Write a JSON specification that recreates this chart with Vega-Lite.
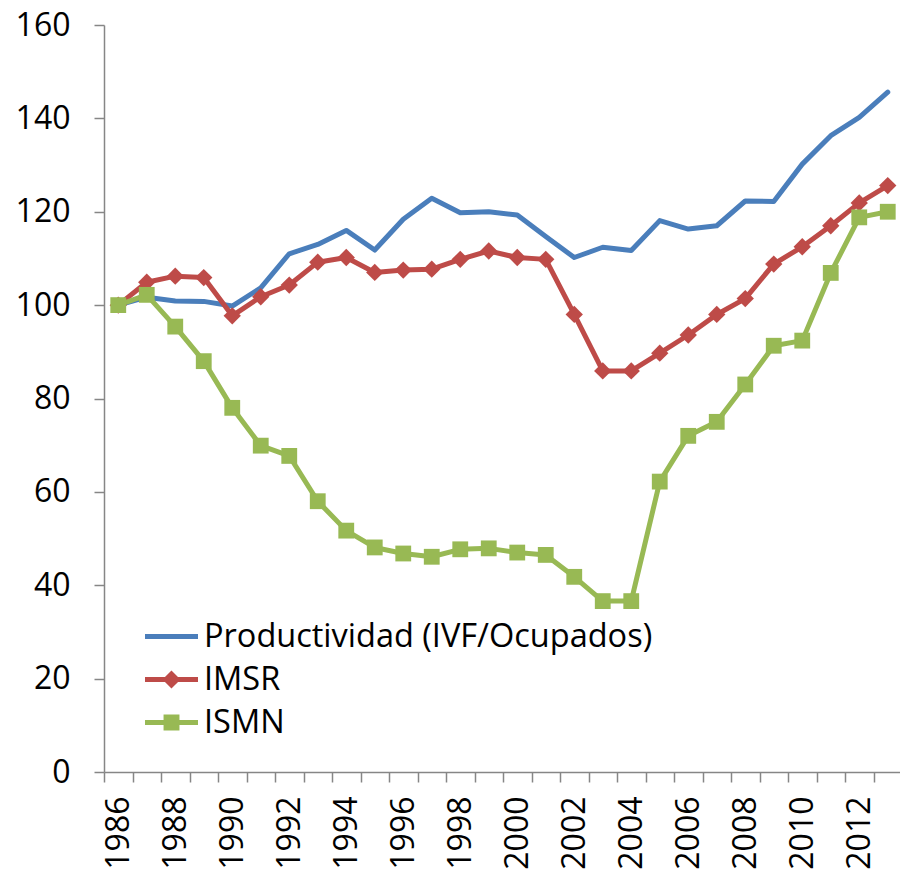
{
  "$schema": "https://vega.github.io/schema/vega-lite/v6.json",
  "autosize": {"type": "none"},
  "width": 798,
  "height": 747,
  "padding": {"left": 104, "top": 25, "right": 0, "bottom": 101},
  "background": "white",
  "title": {"text": "1986-2013", "font": "Open Sans", "fontSize": 36, "fontWeight": "bold", "color": "black", "anchor": "middle", "dx": -28, "offset": 18, "baseline": "alphabetic"},
  "config": {
    "view": {"stroke": null},
    "font": "Open Sans",
    "axis": {"grid": false, "domainColor": "#868686", "domainWidth": 1.5, "tickColor": "#868686", "tickWidth": 1.5, "tickSize": 10, "labelFont": "Open Sans", "labelFontSize": 32, "labelColor": "black", "title": null}
  },
  "data": {"values": [
    {"year": 1986, "series": "Productividad (IVF/Ocupados)", "value": 100},
    {"year": 1987, "series": "Productividad (IVF/Ocupados)", "value": 101.7},
    {"year": 1988, "series": "Productividad (IVF/Ocupados)", "value": 100.9},
    {"year": 1989, "series": "Productividad (IVF/Ocupados)", "value": 100.8},
    {"year": 1990, "series": "Productividad (IVF/Ocupados)", "value": 99.8},
    {"year": 1991, "series": "Productividad (IVF/Ocupados)", "value": 103.7},
    {"year": 1992, "series": "Productividad (IVF/Ocupados)", "value": 111.0},
    {"year": 1993, "series": "Productividad (IVF/Ocupados)", "value": 113.0},
    {"year": 1994, "series": "Productividad (IVF/Ocupados)", "value": 116.0},
    {"year": 1995, "series": "Productividad (IVF/Ocupados)", "value": 111.8},
    {"year": 1996, "series": "Productividad (IVF/Ocupados)", "value": 118.4},
    {"year": 1997, "series": "Productividad (IVF/Ocupados)", "value": 122.9},
    {"year": 1998, "series": "Productividad (IVF/Ocupados)", "value": 119.8},
    {"year": 1999, "series": "Productividad (IVF/Ocupados)", "value": 120.0},
    {"year": 2000, "series": "Productividad (IVF/Ocupados)", "value": 119.3},
    {"year": 2001, "series": "Productividad (IVF/Ocupados)", "value": 114.7},
    {"year": 2002, "series": "Productividad (IVF/Ocupados)", "value": 110.2},
    {"year": 2003, "series": "Productividad (IVF/Ocupados)", "value": 112.4},
    {"year": 2004, "series": "Productividad (IVF/Ocupados)", "value": 111.7},
    {"year": 2005, "series": "Productividad (IVF/Ocupados)", "value": 118.1},
    {"year": 2006, "series": "Productividad (IVF/Ocupados)", "value": 116.3},
    {"year": 2007, "series": "Productividad (IVF/Ocupados)", "value": 117.0},
    {"year": 2008, "series": "Productividad (IVF/Ocupados)", "value": 122.3},
    {"year": 2009, "series": "Productividad (IVF/Ocupados)", "value": 122.2},
    {"year": 2010, "series": "Productividad (IVF/Ocupados)", "value": 130.2},
    {"year": 2011, "series": "Productividad (IVF/Ocupados)", "value": 136.3},
    {"year": 2012, "series": "Productividad (IVF/Ocupados)", "value": 140.2},
    {"year": 2013, "series": "Productividad (IVF/Ocupados)", "value": 145.6},
    {"year": 1986, "series": "IMSR", "value": 100},
    {"year": 1987, "series": "IMSR", "value": 104.9},
    {"year": 1988, "series": "IMSR", "value": 106.2},
    {"year": 1989, "series": "IMSR", "value": 105.9},
    {"year": 1990, "series": "IMSR", "value": 97.7},
    {"year": 1991, "series": "IMSR", "value": 101.8},
    {"year": 1992, "series": "IMSR", "value": 104.3},
    {"year": 1993, "series": "IMSR", "value": 109.2},
    {"year": 1994, "series": "IMSR", "value": 110.2},
    {"year": 1995, "series": "IMSR", "value": 107.0},
    {"year": 1996, "series": "IMSR", "value": 107.5},
    {"year": 1997, "series": "IMSR", "value": 107.7},
    {"year": 1998, "series": "IMSR", "value": 109.8},
    {"year": 1999, "series": "IMSR", "value": 111.6},
    {"year": 2000, "series": "IMSR", "value": 110.2},
    {"year": 2001, "series": "IMSR", "value": 109.8},
    {"year": 2002, "series": "IMSR", "value": 98.0},
    {"year": 2003, "series": "IMSR", "value": 85.9},
    {"year": 2004, "series": "IMSR", "value": 85.9},
    {"year": 2005, "series": "IMSR", "value": 89.7},
    {"year": 2006, "series": "IMSR", "value": 93.6},
    {"year": 2007, "series": "IMSR", "value": 98.0},
    {"year": 2008, "series": "IMSR", "value": 101.4},
    {"year": 2009, "series": "IMSR", "value": 108.8},
    {"year": 2010, "series": "IMSR", "value": 112.5},
    {"year": 2011, "series": "IMSR", "value": 117.0},
    {"year": 2012, "series": "IMSR", "value": 121.9},
    {"year": 2013, "series": "IMSR", "value": 125.6},
    {"year": 1986, "series": "ISMN", "value": 100},
    {"year": 1987, "series": "ISMN", "value": 102.2},
    {"year": 1988, "series": "ISMN", "value": 95.4},
    {"year": 1989, "series": "ISMN", "value": 88.0},
    {"year": 1990, "series": "ISMN", "value": 78.0},
    {"year": 1991, "series": "ISMN", "value": 69.9},
    {"year": 1992, "series": "ISMN", "value": 67.7},
    {"year": 1993, "series": "ISMN", "value": 58.0},
    {"year": 1994, "series": "ISMN", "value": 51.7},
    {"year": 1995, "series": "ISMN", "value": 48.1},
    {"year": 1996, "series": "ISMN", "value": 46.8},
    {"year": 1997, "series": "ISMN", "value": 46.1},
    {"year": 1998, "series": "ISMN", "value": 47.7},
    {"year": 1999, "series": "ISMN", "value": 47.9},
    {"year": 2000, "series": "ISMN", "value": 47.0},
    {"year": 2001, "series": "ISMN", "value": 46.5},
    {"year": 2002, "series": "ISMN", "value": 41.8},
    {"year": 2003, "series": "ISMN", "value": 36.6},
    {"year": 2004, "series": "ISMN", "value": 36.6},
    {"year": 2005, "series": "ISMN", "value": 62.2},
    {"year": 2006, "series": "ISMN", "value": 72.0},
    {"year": 2007, "series": "ISMN", "value": 75.0},
    {"year": 2008, "series": "ISMN", "value": 83.0},
    {"year": 2009, "series": "ISMN", "value": 91.3},
    {"year": 2010, "series": "ISMN", "value": 92.4},
    {"year": 2011, "series": "ISMN", "value": 106.9},
    {"year": 2012, "series": "ISMN", "value": 118.8},
    {"year": 2013, "series": "ISMN", "value": 120.0}
  ]},
  "encoding": {
    "x": {"field": "year", "type": "ordinal", "bandPosition": 0.5,
      "scale": {"type": "band", "paddingInner": 0, "paddingOuter": 0},
      "axis": {"labelExpr": "datum.value % 2 === 0 ? datum.label : ''", "tickBand": "extent", "labelAngle": -90, "labelAlign": "right", "labelBaseline": "middle", "labelPadding": 14}},
    "y": {"field": "value", "type": "quantitative",
      "scale": {"domain": [0, 160], "nice": false, "zero": true},
      "axis": {"values": [0, 20, 40, 60, 80, 100, 120, 140, 160], "labelPadding": 24}}
  },
  "layer": [
    {
      "mark": {"type": "line", "strokeWidth": 5, "strokeCap": "round", "strokeJoin": "round"},
      "encoding": {
        "color": {"field": "series", "type": "nominal",
          "scale": {"domain": ["Productividad (IVF/Ocupados)", "IMSR", "ISMN"], "range": ["#4A7EBB", "#BE4B48", "#98B954"]},
          "legend": {"orient": "none", "legendX": 41, "legendY": 585, "title": null, "padding": 0,
            "labelFont": "Open Sans", "labelFontSize": 32.5, "labelColor": "black", "labelOffset": 6, "labelLimit": 0,
            "symbolSize": 2809, "symbolStrokeWidth": 0, "rowPadding": -8,
            "encode": {"symbols": {"update": {
              "shape": {"signal": "datum.value === 'IMSR' ? 'M-1,-0.09H1V0.09H-1Z M0,-0.34L0.34,0L0,0.34L-0.34,0Z' : (datum.value === 'ISMN' ? 'M-1,-0.09H1V0.09H-1Z M-0.3,-0.3H0.3V0.3H-0.3Z' : 'M-1,-0.09H1V0.09H-1Z')"},
              "fill": {"signal": "datum.value === 'IMSR' ? '#BE4B48' : (datum.value === 'ISMN' ? '#98B954' : '#4A7EBB')"},
              "fillOpacity": {"value": 1},
              "strokeWidth": {"value": 0}
            }}}}
        },
        "order": {"field": "year"}
      }
    },
    {
      "transform": [{"filter": "datum.series === 'IMSR'"}],
      "mark": {"type": "point", "shape": "diamond", "filled": true, "size": 300, "opacity": 1, "color": "#BE4B48"}
    },
    {
      "transform": [{"filter": "datum.series === 'ISMN'"}],
      "mark": {"type": "point", "shape": "square", "filled": true, "size": 250, "opacity": 1, "color": "#98B954"}
    }
  ]
}
